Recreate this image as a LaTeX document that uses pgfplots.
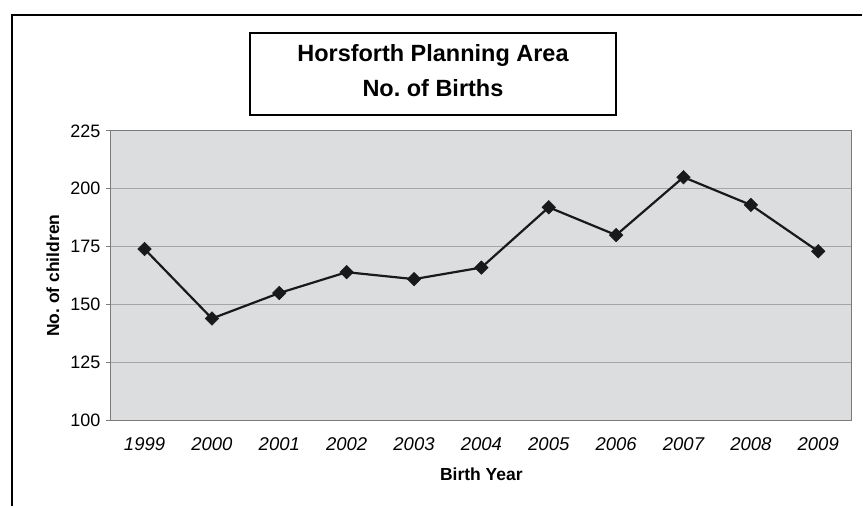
\documentclass[border=0pt]{standalone}
\usepackage{pgfplots}
\pgfplotsset{compat=1.18}
\usepackage{fontspec}
\setmainfont{Liberation Sans}
\frenchspacing
\definecolor{plotbg}{HTML}{DCDDDF}
\definecolor{gridc}{HTML}{A4A5A7}
\definecolor{axc}{HTML}{7A7B7D}
\begin{document}
\begin{tikzpicture}[x=1pt,y=1pt]
\path (0,0) rectangle (863,-507);
\draw[line width=2.2pt,black] (12,-507) -- (12,-15) -- (863,-15);
\begin{axis}[
  at={(111pt,-421pt)}, anchor=south west,
  scale only axis, width=742pt, height=290pt,
  xmin=-0.5, xmax=10.5, ymin=100, ymax=225,
  axis background/.style={fill=plotbg},
  axis line style={axc, line width=1pt},
  xtick={0,...,10},
  xticklabels={1999,2000,2001,2002,2003,2004,2005,2006,2007,2008,2009},
  x tick label style={font=\fontsize{18.5}{20}\selectfont\itshape, yshift=-9pt},
  major x tick style={draw=none},
  extra x ticks={-0.5,0.5,1.5,2.5,3.5,4.5,5.5,6.5,7.5,8.5,9.5,10.5},
  extra x tick labels={},
  extra x tick style={major tick length=5pt, tick align=outside, tick style={axc, line width=0.8pt}, grid=none},
  ytick={100,125,150,175,200,225},
  ymajorgrids, grid style={gridc, line width=0.9pt},
  y tick label style={font=\fontsize{18}{20}\selectfont, xshift=-2pt},
  ytick style={axc, line width=0.8pt},
  tick align=outside, major tick length=5pt,
  xtick pos=bottom, ytick pos=left,
  /pgf/number format/assume math mode=true,
  xlabel={\bfseries Birth Year},
  xlabel style={font=\fontsize{17.5}{20}\selectfont, at={(axis description cs:0.5,0)}, anchor=center, yshift=-54pt},
  ylabel={\bfseries No. of children},
  ylabel style={font=\fontsize{17.5}{20}\selectfont, at={(axis description cs:-0.0782,0.5)}, anchor=center},
  clip=false,
]
\addplot[color=black!90, line width=2.2pt, mark=square*, mark size=4.8pt, mark options={fill=black!90, draw=black!90, line width=0.5pt, rotate=45}]
  coordinates {(0,174) (1,144) (2,155) (3,164) (4,161) (5,166) (6,192) (7,180) (8,205) (9,193) (10,173)};
\end{axis}
\draw[line width=2pt, fill=white] (250,-33) rectangle (617,-115);
\node[font=\fontsize{23.5}{26}\selectfont\bfseries] at (433.5,-56) {Horsforth Planning Area};
\node[font=\fontsize{23.5}{26}\selectfont\bfseries] at (433.5,-88) {No. of Births};
\end{tikzpicture}
\end{document}
